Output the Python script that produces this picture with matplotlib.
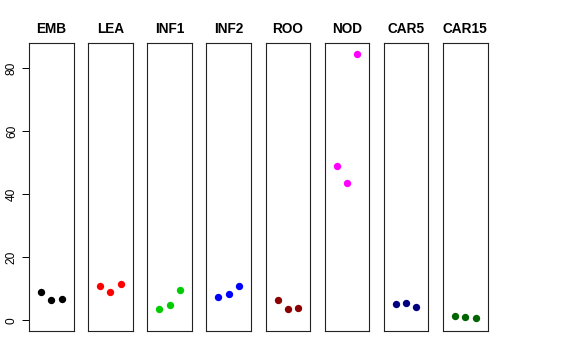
import numpy as np
import matplotlib
matplotlib.use("Agg")
import matplotlib.pyplot as plt

# tissue panels, 3 replicates each
tissues = ["EMB", "LEA", "INF1", "INF2", "ROO", "NOD", "CAR5", "CAR15"]
colors = ["black", "red", "#00CD00", "blue", "#8B0000", "magenta", "#000080", "#006400"]
emb = [8.9, 6.3, 6.9]
lea = [10.8, 9.0, 11.6]
inf1 = [3.6, 4.9, 9.5]
inf2 = [7.4, 8.4, 10.8]
roo = [6.6, 3.7, 4.0]
nod = [49.1, 43.6, 84.7]
car5 = [5.1, 5.4, 4.1]
car15 = [1.4, 1.05, 0.6]
series = [emb, lea, inf1, inf2, roo, nod, car5, car15]
yticks = [0, 20, 40, 60, 80]

plt.rcParams["font.family"] = ["Liberation Sans", "DejaVu Sans"]

W, H = 576, 360
fig = plt.figure(figsize=(W / 100, H / 100), dpi=100)

ymax = max(max(s) for s in series)
ylo, yhi = 0 - 0.04 * ymax, ymax * 1.04

for i, (name, col, vals) in enumerate(zip(tissues, colors, series)):
    left = 29 + i * 59.15
    ax = fig.add_axes([left / W, 1 - 331 / H, 44.5 / W, 288 / H])
    ax.scatter([1, 2, 3], vals, s=28, color=col, zorder=3, linewidths=0)
    ax.set_xlim(-0.16, 4.16)
    ax.set_ylim(ylo, yhi)
    ax.set_xticks([])
    for sp in ax.spines.values():
        sp.set_linewidth(0.8)
        sp.set_color("#222222")
    ax.set_title(name, fontsize=9.8, fontweight="bold", pad=7.5)
    if i == 0:
        ax.set_yticks(yticks)
        ax.tick_params(axis="y", length=5, width=0.7, labelsize=8.6, pad=3)
        for lab in ax.get_yticklabels():
            lab.set_rotation(90)
            lab.set_va("center")
    else:
        ax.set_yticks([])

fig.savefig("out.png", dpi=100)
